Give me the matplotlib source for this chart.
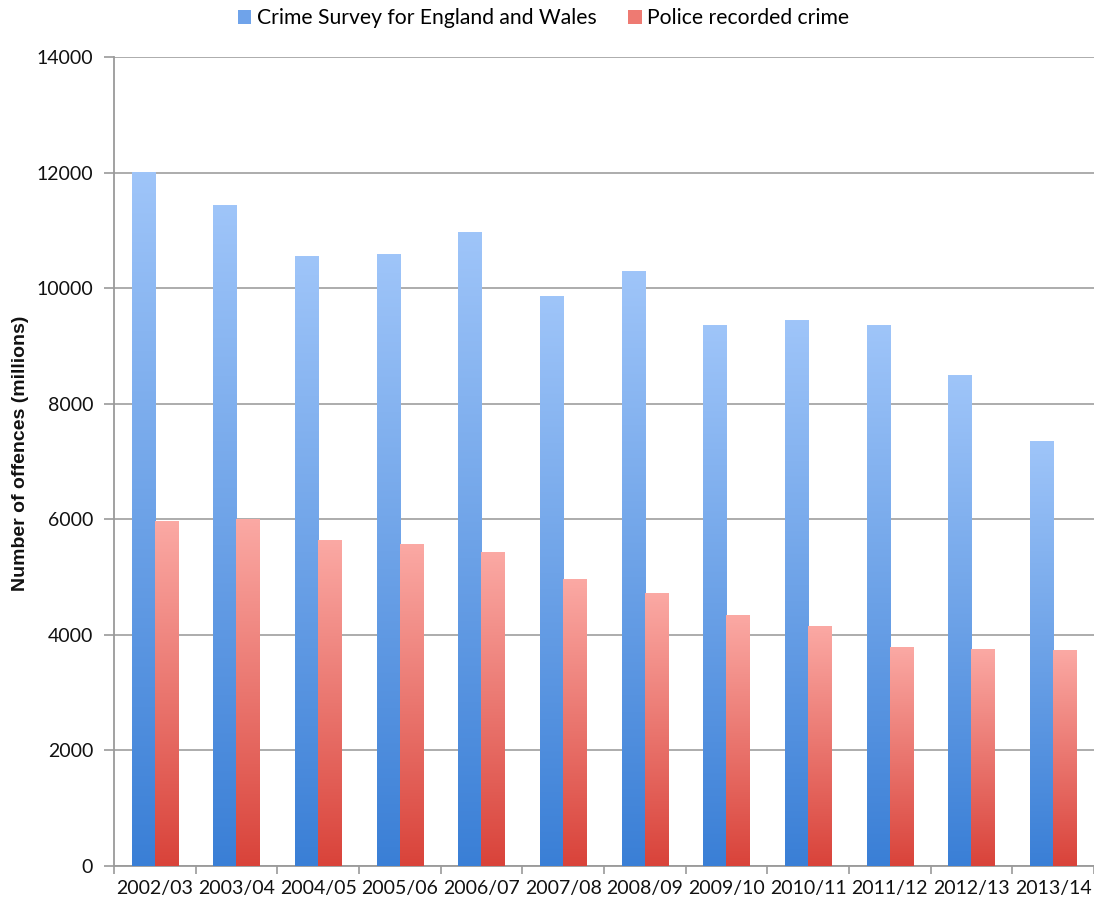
import numpy as np
import matplotlib
matplotlib.use("Agg")
import matplotlib.pyplot as plt
from matplotlib.colors import LinearSegmentedColormap
from matplotlib.patches import Patch

# Data
years = ["2002/03", "2003/04", "2004/05", "2005/06", "2006/07", "2007/08",
         "2008/09", "2009/10", "2010/11", "2011/12", "2012/13", "2013/14"]
csew = [12000, 11430, 10550, 10580, 10960, 9850, 10290, 9350, 9440, 9350, 8490, 7340]
police = [5960, 6000, 5635, 5565, 5425, 4950, 4715, 4340, 4145, 3790, 3750, 3725]

series_names = ["Crime Survey for England and Wales", "Police recorded crime"]

plt.rcParams['font.family'] = ['Lato', 'DejaVu Sans']

fig = plt.figure(figsize=(10.94, 9.06), dpi=100)
ax = fig.add_axes([0.1042, 0.0442, 0.8958, 0.8929])

blue_cmap = LinearSegmentedColormap.from_list("blue_grad", ["#3a7fd6", "#9fc5f9"])
red_cmap = LinearSegmentedColormap.from_list("red_grad", ["#d9433a", "#fba9a4"])

x = np.arange(len(years))
w = 0.285

bars_blue = ax.bar(x - w / 2, csew, width=w, color="none", edgecolor="none", zorder=3)
bars_red = ax.bar(x + w / 2, police, width=w, color="none", edgecolor="none", zorder=3)

# Vertical gradient fill for each bar: light at the top, dark at the base
grad = np.linspace(1, 0, 256).reshape(-1, 1)
for bars, cmap in ((bars_blue, blue_cmap), (bars_red, red_cmap)):
    for b in bars:
        x0, y0 = b.get_x(), b.get_y()
        bw, bh = b.get_width(), b.get_height()
        ax.imshow(grad, extent=[x0, x0 + bw, y0, y0 + bh], aspect="auto",
                  cmap=cmap, origin="upper", interpolation="bilinear", zorder=3)

ax.set_xlim(-0.5, len(years) - 0.5)
ax.set_ylim(0, 14000)
ax.set_yticks(np.arange(0, 14001, 2000))

# Category labels at centres, tick marks at the boundaries between categories
ax.set_xticks(x)
ax.set_xticklabels(years)
ax.set_xticks(np.arange(-0.5, len(years), 1.0), minor=True)
ax.tick_params(axis="x", which="major", length=0, pad=10, labelsize=14, labelcolor="#111111")
ax.tick_params(axis="x", which="minor", length=6, width=1.2, color="#9a9a9a", direction="out")
ax.tick_params(axis="y", which="major", length=7, width=1.2, color="#9a9a9a", direction="out",
               pad=8, labelsize=14, labelcolor="#111111")

ax.yaxis.grid(True, color="#a6a6a6", linewidth=1.3, zorder=0)
ax.set_axisbelow(True)
for side in ("top", "right"):
    ax.spines[side].set_visible(False)
for side in ("left", "bottom"):
    ax.spines[side].set_color("#9a9a9a")
    ax.spines[side].set_linewidth(1.3)

ax.set_ylabel("Number of offences (millions)", fontsize=14, fontweight="bold",
              family=["Liberation Sans", "DejaVu Sans"], color="#111111", labelpad=5)
ax.yaxis.set_label_coords(-0.087, 0.51)

handles = [Patch(facecolor="#6fa3ea", edgecolor="none"),
           Patch(facecolor="#ee7a72", edgecolor="none")]
fig.legend(handles, series_names, loc="center left",
           bbox_to_anchor=(227 / 1094, 1 - 18 / 906), ncol=2, frameon=False,
           fontsize=15.2, handlelength=0.65, handleheight=0.65, handletextpad=0.25,
           columnspacing=1.5, borderpad=0)

fig.savefig("out.png", dpi=100)
